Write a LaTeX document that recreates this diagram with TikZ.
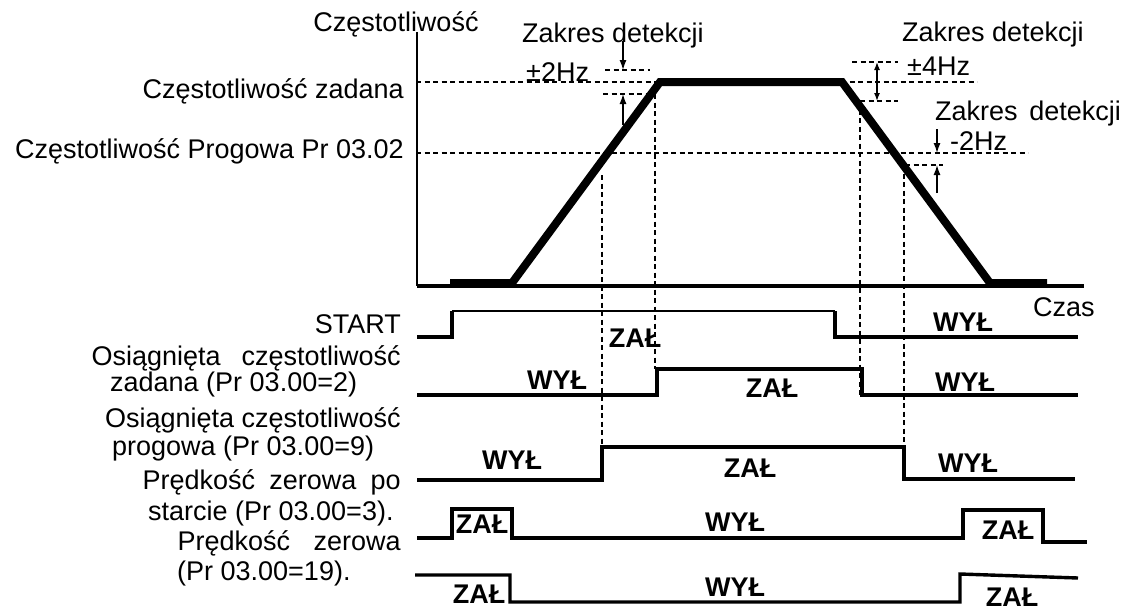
\documentclass[tikz,border=0pt]{standalone}
\usepackage{fontspec}
\setmainfont{Liberation Sans}
\usetikzlibrary{arrows.meta}
\begin{document}
\begin{tikzpicture}[x=1pt,y=-1pt,
 lbl/.style={font=\fontsize{27}{30}\selectfont, inner sep=0pt},
 stt/.style={font=\bfseries\fontsize{27}{30}\selectfont, inner sep=0pt},
 sig/.style={line width=3.4pt, line join=miter},
 sigthin/.style={line width=2.2pt, line join=miter},
 guide/.style={line width=1.3pt, dash pattern=on 5pt off 3.5pt},
 ramp/.style={line width=8pt, line join=miter},
 arr/.style={line width=1.3pt, -{Latex[length=10pt,width=7pt]}},
 darr/.style={line width=1.3pt, {Latex[length=8pt,width=6pt]}-{Latex[length=8pt,width=6pt]}},
]
\useasboundingbox (0,0) rectangle (1127,613);

% axes
\coordinate (ot) at (417,32); \coordinate (o) at (417,286); \coordinate (xe) at (1084,286);

% guides (horizontal)
\coordinate (zl) at (416,82);  \coordinate (zr) at (977,82);
\coordinate (pl) at (416,153); \coordinate (pr) at (1028,153);
\coordinate (a1) at (605,70);  \coordinate (a2) at (650,70);
\coordinate (b1) at (603,94);  \coordinate (b2) at (648,94);
\coordinate (c1) at (852,62);  \coordinate (c2) at (898,62);
\coordinate (d1) at (860,101); \coordinate (d2) at (898,101);
\coordinate (e1) at (905,165); \coordinate (e2) at (943,165);
\draw[guide] (zl) -- (zr);
\draw[guide] (pl) -- (pr);
\draw[guide] (a1) -- (a2);
\draw[guide] (b1) -- (b2);
\draw[guide] (c1) -- (c2);
\draw[guide] (d1) -- (d2);
\draw[guide] (e1) -- (e2);

% guides (vertical)
\coordinate (v1t) at (602,175); \coordinate (v1b) at (602,447);
\coordinate (v2t) at (655,94);  \coordinate (v2b) at (655,369);
\coordinate (v3t) at (860,101); \coordinate (v3b) at (860,395);
\coordinate (v4t) at (904,165); \coordinate (v4b) at (904,447);
\draw[guide] (v1t) -- (v1b);
\draw[guide] (v2t) -- (v2b);
\draw[guide] (v3t) -- (v3b);
\draw[guide] (v4t) -- (v4b);

% axes drawn
\draw[line width=1.3pt] (ot) -- (o);
\draw[line width=3.5pt] (o) -- (xe);

% frequency ramp
\coordinate (r0) at (450,283); \coordinate (r1) at (512,283);
\coordinate (r2) at (660,82);  \coordinate (r3) at (842,82);
\coordinate (r4) at (990,283); \coordinate (r5) at (1047,283);
\draw[ramp] (r0) -- (r1) -- (r2) -- (r3) -- (r4) -- (r5);

% arrows
\coordinate (p1s) at (623,41);  \coordinate (p1e) at (623,70);
\coordinate (p2s) at (623,125); \coordinate (p2e) at (623,94);
\coordinate (q1) at (877,62);   \coordinate (q2) at (877,101);
\coordinate (s1s) at (937,129); \coordinate (s1e) at (937,153);
\coordinate (s2s) at (937,193); \coordinate (s2e) at (937,165);
\draw[arr] (p1s) -- (p1e);
\draw[arr] (p2s) -- (p2e);
\draw[darr] (q1) -- (q2);
\draw[arr] (s1s) -- (s1e);
\draw[arr] (s2s) -- (s2e);

% signals
\draw[sig] (417,337) -- (452,337) -- (452,311);
\draw[sigthin] (452,311) -- (835,311);
\draw[sig] (835,311) -- (835,337) -- (1078,337);
\draw[sig] (417,395) -- (657,395) -- (657,369) -- (862,369) -- (862,395) -- (1078,395);
\draw[sig] (417,480) -- (602,480) -- (602,447) -- (904,447) -- (904,479) -- (1075,479);
\draw[sig] (417,538) -- (452,538) -- (452,509) -- (512,509) -- (512,538) -- (963,538) -- (963,510) -- (1043,510) -- (1043,542) -- (1087,542);
\draw[sig] (415,575) -- (510,575) -- (510,602) -- (960,602) -- (960,574) -- (1078,578);

% texts
\node[lbl, anchor=base] (tcz) at (396,31) {Częstotliwość};
\node[lbl, anchor=base east] (tzad) at (404,98) {Częstotliwość zadana};
\node[lbl, anchor=base east] (tprog) at (404,158) {Częstotliwość Progowa Pr 03.02};
\node[lbl, anchor=base west] (zk1) at (522,42) {Zakres detekcji};
\node[lbl, anchor=base west] (hz2) at (526,81) {±2Hz};
\node[lbl, anchor=base west] (zk2) at (902,41) {Zakres detekcji};
\node[lbl, anchor=base west] (hz4) at (907,75) {±4Hz};
\node[lbl, anchor=base west] (zk3) at (935,120) {Zakres\hspace{0.15em} detekcji};
\node[lbl, anchor=base west] (hzm) at (950,150) {-2Hz};
\node[lbl, anchor=base west] (czas) at (1033,316) {Czas};

\node[lbl, anchor=base east] (lst) at (401,333) {START};
\node[lbl, anchor=base east] (l2a) at (401,365) {Osiągnięta\hspace{0.5em} częstotliwość};
\node[lbl, anchor=base west] (l2b) at (110,391) {zadana (Pr 03.00=2)};
\node[lbl, anchor=base east] (l3a) at (401,427) {Osiągnięta częstotliwość};
\node[lbl, anchor=base west] (l3b) at (112,455) {progowa (Pr 03.00=9)};
\node[lbl, anchor=base east] (l4a) at (401,489) {Prędkość\hspace{0.25em} zerowa\hspace{0.25em} po};
\node[lbl, anchor=base west] (l4b) at (148,520) {starcie (Pr 03.00=3).};
\node[lbl, anchor=base east] (l5a) at (401,550) {Prędkość\hspace{0.6em} zerowa};
\node[lbl, anchor=base west] (l5b) at (177,580) {(Pr 03.00=19).};

% state labels
\node[stt] (s11) at (635,338) {ZAŁ};
\node[stt] (s12) at (963,322) {WYŁ};
\node[stt] (s21) at (557,380) {WYŁ};
\node[stt] (s22) at (772,388) {ZAŁ};
\node[stt] (s23) at (965,382) {WYŁ};
\node[stt] (s31) at (512,460) {WYŁ};
\node[stt] (s32) at (750,468) {ZAŁ};
\node[stt] (s33) at (968,463) {WYŁ};
\node[stt] (s41) at (482,524) {ZAŁ};
\node[stt] (s42) at (735,522) {WYŁ};
\node[stt] (s43) at (1008,530) {ZAŁ};
\node[stt] (s51) at (479,594) {ZAŁ};
\node[stt] (s52) at (735,587) {WYŁ};
\node[stt] (s53) at (1012,597) {ZAŁ};
\end{tikzpicture}
\end{document}
